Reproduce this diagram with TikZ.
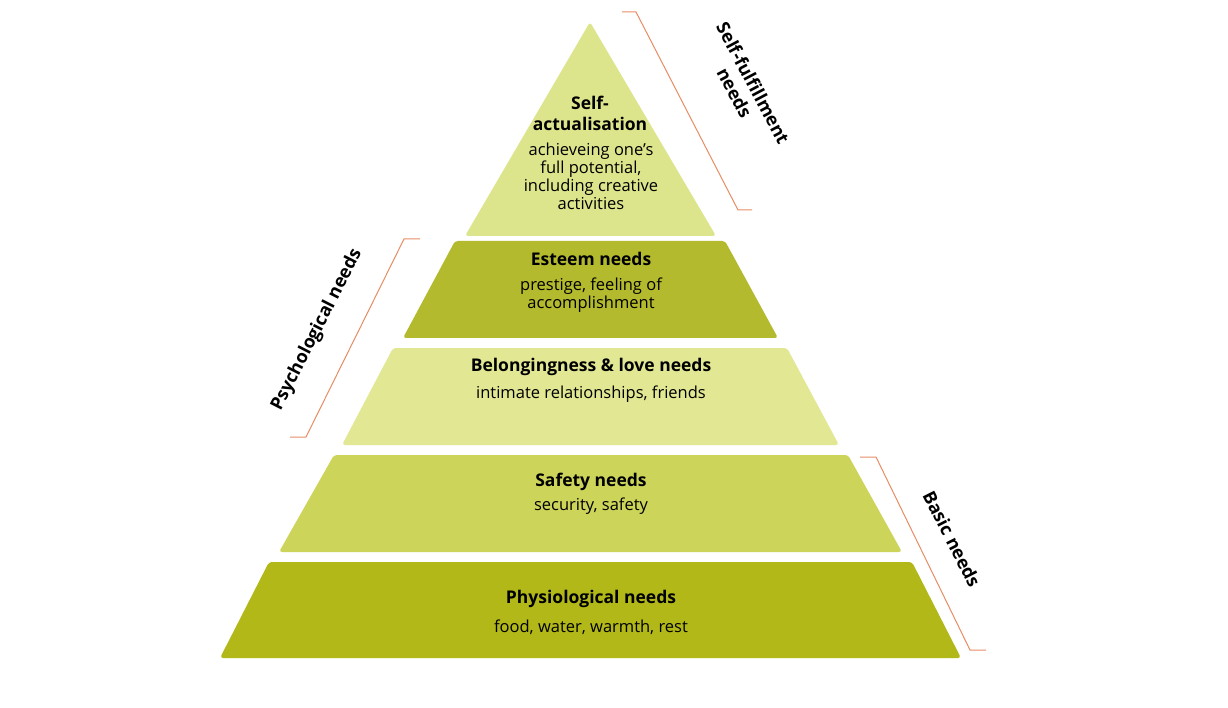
\documentclass[tikz,border=0pt]{standalone}
\usepackage{fontspec}
\setmainfont{Open Sans}
\begin{document}
\begin{tikzpicture}[x=1pt,y=-1pt,
  lay/.style={rounded corners=3pt},
  ttl/.style={font=\fontsize{17.5}{21}\selectfont\bfseries,align=center,inner sep=0},
  dsc/.style={font=\fontsize{16.5}{18}\selectfont,align=center,inner sep=0},
  brk/.style={draw={rgb,255:red,232;green,140;blue,100},line width=1pt},
  blab/.style={font=\fontsize{18}{21}\selectfont\bfseries,align=center,inner sep=0}]
\useasboundingbox (0,0) rectangle (1228,708);
\fill[white] (0,0) rectangle (1228,708);
\definecolor{c1}{RGB}{221,229,140}
\definecolor{c2}{RGB}{180,186,46}
\definecolor{c3}{RGB}{225,231,146}
\definecolor{c4}{RGB}{205,212,90}
\definecolor{c5}{RGB}{177,184,24}
\fill[c1,lay] (590,22) -- (716,236) -- (465,236) -- cycle;
\fill[c2,lay] (455,241) -- (725,241) -- (778,338) -- (403,338) -- cycle;
\fill[c3,lay] (393,348) -- (787,348) -- (839,445) -- (342,445) -- cycle;
\fill[c4,lay] (334,455) -- (848,455) -- (902,552) -- (279,552) -- cycle;
\fill[c5,lay] (269,562) -- (912,562) -- (961,658) -- (220,658) -- cycle;
\node[ttl] (t1) at (590,113) {Self-\\actualisation};
\node[dsc] (d1) at (591,176) {achieveing one’s\\full potential,\\including creative\\activities};
\node[ttl] (t2) at (591,259) {Esteem needs};
\node[dsc] (d2) at (591,295) {prestige, feeling of\\accomplishment};
\node[ttl] (t3) at (591,367) {Belongingness \& love needs};
\node[dsc] (d3) at (591,394) {intimate relationships, friends};
\node[ttl] (t4) at (591,482) {Safety needs};
\node[dsc] (d4) at (591,506) {security, safety};
\node[ttl] (t5) at (591,599) {Physiological needs};
\node[dsc] (d5) at (591,627) {food, water, warmth, rest};
\coordinate (a1) at (622,12); \coordinate (a2) at (636,12);
\coordinate (a3) at (738,210); \coordinate (a4) at (752,210);
\draw[brk] (a1) -- (a2) -- (a3) -- (a4);
\node[blab,rotate=-62] (l1) at (744,88) {Self-fulfillment\\needs};
\coordinate (b1) at (420,239); \coordinate (b2) at (404,239);
\coordinate (b3) at (306,437); \coordinate (b4) at (290,437);
\draw[brk] (b1) -- (b2) -- (b3) -- (b4);
\node[blab,rotate=63] (l2) at (317,330) {Psychological needs};
\coordinate (c1p) at (860,457); \coordinate (c2p) at (876,457);
\coordinate (c3p) at (970,650); \coordinate (c4p) at (986,650);
\draw[brk] (c1p) -- (c2p) -- (c3p) -- (c4p);
\node[blab,rotate=-63] (l3) at (952,539) {Basic needs};
\end{tikzpicture}
\end{document}
